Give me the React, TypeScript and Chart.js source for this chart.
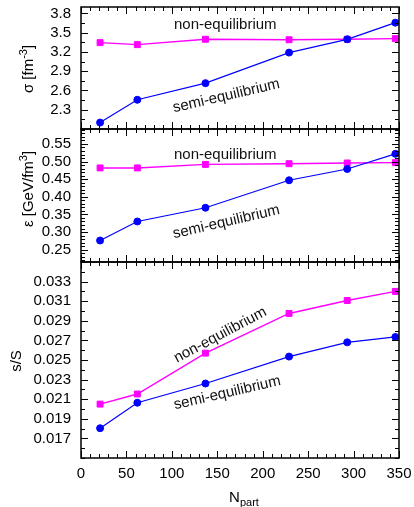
import React, { useEffect, useRef } from "react";
import { Chart, registerables } from "chart.js";

Chart.register(...registerables);

const FONT = '"Liberation Sans", Arial, Helvetica, sans-serif';

// ---- data ----
const nPart = [21, 62, 137, 229, 293, 346];

const sigmaSemi = [2.1, 2.455, 2.714, 3.19, 3.397, 3.656];
const sigmaNon = [3.345, 3.314, 3.397, 3.39, 3.397, 3.407];

const epsSemi = [0.276, 0.33, 0.369, 0.447, 0.479, 0.522];
const epsNon = [0.482, 0.482, 0.492, 0.494, 0.496, 0.497];

const ratioSemi = [0.01804, 0.02064, 0.0226, 0.02535, 0.0268, 0.02735];
const ratioNon = [0.0205, 0.02153, 0.0257, 0.02975, 0.03107, 0.032];

const xTicks = [0, 50, 100, 150, 200, 250, 300, 350];
const sigmaTicks = [2.3, 2.6, 2.9, 3.2, 3.5, 3.8];
const epsTicks = [0.25, 0.3, 0.35, 0.4, 0.45, 0.5, 0.55];
const ratioTicks = [0.017, 0.019, 0.021, 0.023, 0.025, 0.027, 0.029, 0.031, 0.033];

const NON_LABEL = "non-equilibrium";
const SEMI_LABEL = "semi-equilibrium";

const W = 414;
const H = 507;

type Piece = { t: string; sup?: boolean; sub?: boolean };
type Note = { text: string; x: number; y: number; angle: number };
type Panel = {
  key: string;
  semi: number[];
  non: number[];
  ticks: number[];
  min: number;
  max: number;
  minor: number;
  dec: number;
  top: number;
  bottom: number;
  showX: boolean;
  title: Piece[];
  titleX: number;
  titleY: number;
  notes: Note[];
};

const panels: Panel[] = [
  {
    key: "sigma",
    semi: sigmaSemi,
    non: sigmaNon,
    ticks: sigmaTicks,
    min: 2.0,
    max: 3.9,
    minor: 0.15,
    dec: 1,
    top: 7,
    bottom: 129,
    showX: false,
    title: [{ t: "σ [fm" }, { t: "-3", sup: true }, { t: "]" }],
    titleX: 33,
    titleY: 69,
    notes: [
      { text: NON_LABEL, x: 158.8, y: 3.62, angle: 0 },
      { text: SEMI_LABEL, x: 160, y: 2.514, angle: 13 },
    ],
  },
  {
    key: "eps",
    semi: epsSemi,
    non: epsNon,
    ticks: epsTicks,
    min: 0.215,
    max: 0.5925,
    minor: 0.01,
    dec: 2,
    top: 129,
    bottom: 262,
    showX: false,
    title: [{ t: "ε [GeV/fm" }, { t: "3", sup: true }, { t: "]" }],
    titleX: 33,
    titleY: 189,
    notes: [
      { text: NON_LABEL, x: 158.8, y: 0.5187, angle: 0 },
      { text: SEMI_LABEL, x: 160, y: 0.3285, angle: 13 },
    ],
  },
  {
    key: "ratio",
    semi: ratioSemi,
    non: ratioNon,
    ticks: ratioTicks,
    min: 0.015,
    max: 0.035,
    minor: 0.001,
    dec: 3,
    top: 262,
    bottom: 458,
    showX: true,
    title: [{ t: "s/S" }],
    titleX: 21,
    titleY: 361,
    notes: [
      { text: NON_LABEL, x: 153.3, y: 0.02755, angle: 28 },
      { text: SEMI_LABEL, x: 161, y: 0.02163, angle: 13 },
    ],
  },
];

function drawRich(
  ctx: CanvasRenderingContext2D,
  pieces: Piece[],
  x: number,
  y: number,
  rotate: boolean
) {
  const base = `15px ${FONT}`;
  const small = `11px ${FONT}`;
  ctx.save();
  ctx.translate(x, y);
  if (rotate) ctx.rotate(-Math.PI / 2);
  ctx.textAlign = "left";
  ctx.textBaseline = "alphabetic";
  ctx.fillStyle = "#000";
  const widths = pieces.map((p) => {
    ctx.font = p.sup || p.sub ? small : base;
    return ctx.measureText(p.t).width;
  });
  const total = widths.reduce((a, b) => a + b, 0);
  let cx = -total / 2;
  pieces.forEach((p, i) => {
    ctx.font = p.sup || p.sub ? small : base;
    const dy = p.sup ? -6 : p.sub ? 3.5 : 0;
    ctx.fillText(p.t, cx, dy);
    cx += widths[i];
  });
  ctx.restore();
}

function makePlugin(p: Panel) {
  return {
    id: "deco_" + p.key,
    afterDraw(chart: any) {
      const ctx: CanvasRenderingContext2D = chart.ctx;
      const a = chart.chartArea;
      const xs = chart.scales.x;
      const ys = chart.scales.y;
      ctx.save();
      // inward ticks
      ctx.strokeStyle = "#000";
      ctx.lineWidth = 1;
      ctx.beginPath();
      for (let v = 0; v <= 350 + 1e-9; v += 10) {
        const px = Math.round(xs.getPixelForValue(v)) + 0.5;
        const major = xTicks.some((t) => Math.abs(t - v) < 1e-6);
        const len = major ? 7 : 4;
        ctx.moveTo(px, a.bottom);
        ctx.lineTo(px, a.bottom - len);
        ctx.moveTo(px, a.top);
        ctx.lineTo(px, a.top + len);
      }
      let start = p.ticks[0];
      while (start - p.minor >= p.min - 1e-9) start -= p.minor;
      for (let i = 0; i < 500; i++) {
        const v = start + i * p.minor;
        if (v > p.max + 1e-9) break;
        const py = Math.round(ys.getPixelForValue(v)) + 0.5;
        const major = p.ticks.some((t) => Math.abs(t - v) < p.minor * 0.01);
        const len = major ? 7 : 4;
        ctx.moveTo(a.left, py);
        ctx.lineTo(a.left + len, py);
        ctx.moveTo(a.right, py);
        ctx.lineTo(a.right - len, py);
      }
      ctx.stroke();
      // frame
      ctx.lineWidth = 1.5;
      ctx.strokeRect(a.left, a.top, a.right - a.left, a.bottom - a.top);

      // annotations
      ctx.fillStyle = "#111";
      ctx.font = `15px ${FONT}`;
      ctx.textAlign = "center";
      ctx.textBaseline = "middle";
      p.notes.forEach((n) => {
        ctx.save();
        ctx.translate(xs.getPixelForValue(n.x), ys.getPixelForValue(n.y));
        ctx.rotate((-n.angle * Math.PI) / 180);
        ctx.fillText(n.text, 0, 0);
        ctx.restore();
      });
      ctx.restore();

      // y title
      drawRich(ctx, p.title, p.titleX, p.titleY, true);
      // x title
      if (p.showX) {
        drawRich(ctx, [{ t: "N" }, { t: "part", sub: true }], 244, 502, false);
      }
    },
  };
}

function PanelChart({ panel }: { panel: Panel }) {
  const ref = useRef<HTMLCanvasElement | null>(null);
  useEffect(() => {
    if (!ref.current) return;
    const p = panel;
    const chart = new Chart(ref.current, {
      type: "line",
      data: {
        datasets: [
          {
            label: SEMI_LABEL,
            data: nPart.map((x, i) => ({ x, y: p.semi[i] })),
            borderColor: "#0000ff",
            backgroundColor: "#0000ff",
            borderWidth: 1.2,
            pointStyle: "circle",
            pointRadius: 3.5,
            pointBorderWidth: 1,
            tension: 0,
          },
          {
            label: NON_LABEL,
            data: nPart.map((x, i) => ({ x, y: p.non[i] })),
            borderColor: "#ff00ff",
            backgroundColor: "#ff00ff",
            borderWidth: 1.4,
            pointStyle: "rect",
            pointRadius: 4.2,
            pointBorderWidth: 1,
            tension: 0,
          },
        ],
      },
      options: {
        animation: false,
        responsive: false,
        maintainAspectRatio: false,
        devicePixelRatio: 1,
        layout: {
          padding: {
            top: p.top,
            bottom: p.showX ? 0 : H - p.bottom,
            left: 0,
            right: 15,
          },
        },
        plugins: {
          legend: { display: false },
          tooltip: { enabled: false },
        },
        scales: {
          x: {
            type: "linear",
            min: 0,
            max: 350,
            display: p.showX,
            afterFit: (s: any) => {
              if (p.showX) s.height = H - p.bottom;
              s.paddingLeft = 0;
              s.paddingRight = 0;
            },
            afterBuildTicks: (s: any) => {
              s.ticks = xTicks.map((v) => ({ value: v }));
            },
            grid: { display: false, drawTicks: false },
            border: { display: false },
            ticks: {
              padding: 7,
              color: "#000",
              font: { family: FONT, size: 15 },
              maxRotation: 0,
              autoSkip: false,
              callback: (v: any) => String(v),
            },
          },
          y: {
            type: "linear",
            min: p.min,
            max: p.max,
            afterFit: (s: any) => {
              s.width = 81;
              s.paddingTop = 0;
              s.paddingBottom = 0;
            },
            afterBuildTicks: (s: any) => {
              s.ticks = p.ticks.map((v) => ({ value: v }));
            },
            grid: { display: false, drawTicks: false },
            border: { display: false },
            ticks: {
              padding: 10,
              color: "#000",
              font: { family: FONT, size: 15 },
              autoSkip: false,
              callback: (v: any) => Number(v).toFixed(p.dec),
            },
          },
        },
      },
      plugins: [makePlugin(p)],
    } as any);
    return () => chart.destroy();
  }, [panel]);
  return (
    <canvas
      ref={ref}
      width={W}
      height={H}
      style={{ position: "absolute", left: 0, top: 0, width: W, height: H }}
    />
  );
}

export default function App() {
  return (
    <div
      style={{
        position: "fixed",
        left: 0,
        top: 0,
        width: W,
        height: H,
        background: "#fff",
        overflow: "hidden",
      }}
    >
      {panels.map((p) => (
        <PanelChart key={p.key} panel={p} />
      ))}
    </div>
  );
}
